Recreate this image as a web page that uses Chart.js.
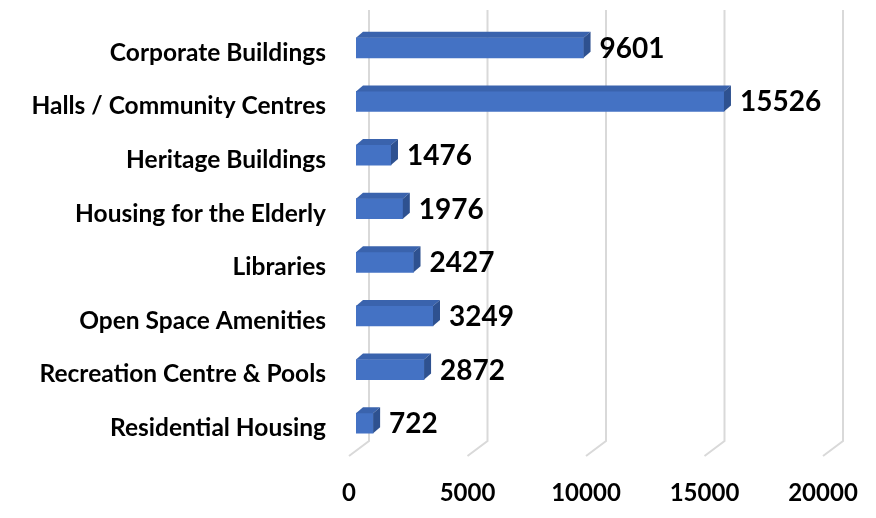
<!DOCTYPE html>
<html>
<head>
    <meta charset='utf-8'>
    <title>Facilities</title>
    <script src="https://cdn.jsdelivr.net/npm/chart.js@4.4.0/dist/chart.umd.min.js"></script>
    <style>
        body { margin: 0; background: #fff; }
        #wrap { width: 876px; height: 518px; }
    </style>
</head>
<body>
    <div id="wrap"><canvas id="myChart" width="876" height="518"></canvas></div>
    <script>
        const categories = [
            'Corporate Buildings',
            'Halls / Community Centres',
            'Heritage Buildings',
            'Housing for the Elderly',
            'Libraries',
            'Open Space Amenities',
            'Recreation Centre & Pools',
            'Residential Housing'
        ];
        const values = [9601, 15526, 1476, 1976, 2427, 3249, 2872, 722];
        const xTicks = [0, 5000, 10000, 15000, 20000];

        // 3d look: depth of the bars and of the floor
        const barDepthX = 7, barDepthY = 6;
        const wallX = 13, floorX = -7;

        const grid3d = {
            id: 'grid3d',
            beforeDatasetsDraw(chart) {
                const c = chart.ctx, xs = chart.scales.x;
                c.save();
                c.strokeStyle = '#d9d9d9';
                c.lineWidth = 2;
                xTicks.forEach(v => {
                    const px = xs.getPixelForValue(v);
                    c.beginPath();
                    c.moveTo(px + wallX, 10);
                    c.lineTo(px + wallX, 441);
                    c.lineTo(px + floorX, 456);
                    c.stroke();
                });
                c.restore();
            }
        };

        const bars3d = {
            id: 'bars3d',
            afterDatasetsDraw(chart) {
                const c = chart.ctx;
                const meta = chart.getDatasetMeta(0);
                c.save();
                meta.data.forEach((bar, i) => {
                    const h = bar.height;
                    const top = bar.y - h / 2, bottom = bar.y + h / 2;
                    const left = bar.base, right = bar.x;
                    // top face
                    c.fillStyle = '#3a63ad';
                    c.beginPath();
                    c.moveTo(left, top);
                    c.lineTo(left + barDepthX, top - barDepthY);
                    c.lineTo(right + barDepthX, top - barDepthY);
                    c.lineTo(right, top);
                    c.closePath();
                    c.fill();
                    // side face
                    c.fillStyle = '#2e5190';
                    c.beginPath();
                    c.moveTo(right, top);
                    c.lineTo(right + barDepthX, top - barDepthY);
                    c.lineTo(right + barDepthX, bottom - barDepthY);
                    c.lineTo(right, bottom);
                    c.closePath();
                    c.fill();
                    // value label
                    c.fillStyle = '#000';
                    c.font = 'bold 28px Lato';
                    c.textAlign = 'left';
                    c.textBaseline = 'middle';
                    c.fillText(String(values[i]), right + barDepthX + 9, bar.y + 1);
                });
                c.restore();
            }
        };

        const ctx = document.getElementById('myChart').getContext('2d');
        const myChart = new Chart(ctx, {
            type: 'bar',
            data: {
                labels: categories,
                datasets: [{
                    data: values,
                    backgroundColor: '#4472c4',
                    borderWidth: 0,
                    barThickness: 20
                }]
            },
            options: {
                indexAxis: 'y',
                responsive: false,
                animation: false,
                layout: { padding: { top: 21, right: 46, bottom: 0, left: 0 } },
                plugins: {
                    legend: { display: false },
                    tooltip: { enabled: false }
                },
                scales: {
                    x: {
                        min: 0,
                        max: 20000,
                        afterBuildTicks(scale) {
                            scale.ticks = xTicks.map(v => ({ value: v }));
                        },
                        afterFit(scale) {
                            scale.height = 68;
                            scale.paddingLeft = 0;
                            scale.paddingRight = 0;
                        },
                        grid: { display: false, drawTicks: false },
                        border: { display: false },
                        ticks: {
                            padding: 29,
                            labelOffset: floorX,
                            maxRotation: 0,
                            color: '#000',
                            font: { family: 'Lato', weight: 'bold', size: 24 },
                            callback: v => String(v)
                        }
                    },
                    y: {
                        afterFit(scale) {
                            scale.width = 356;
                            scale.paddingTop = 0;
                            scale.paddingBottom = 0;
                        },
                        grid: { display: false, drawTicks: false },
                        border: { display: false },
                        ticks: {
                            padding: 30,
                            labelOffset: 5,
                            color: '#000',
                            font: { family: 'Lato', weight: 'bold', size: 24.5 }
                        }
                    }
                }
            },
            plugins: [grid3d, bars3d]
        });
    </script>
</body>
</html>
